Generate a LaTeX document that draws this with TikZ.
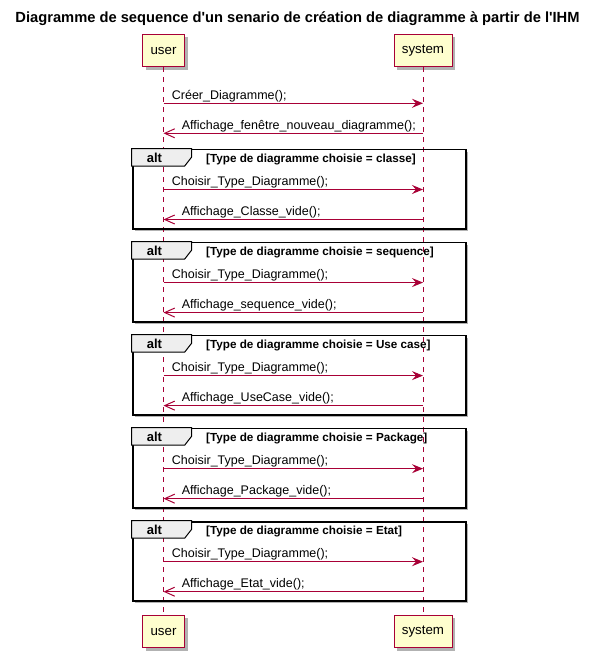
\documentclass[tikz,border=0pt]{standalone}
\usepackage{fontspec}
\setmainfont{Liberation Sans}[Ligatures=TeXOff]
\usetikzlibrary{arrows.meta,shadows,calc}
\definecolor{pline}{HTML}{A80036}
\definecolor{pfill}{HTML}{FEFECE}
\definecolor{tabfill}{HTML}{EEEEEE}
\tikzset{
  part/.style={draw=pline, fill=pfill, line width=1pt, inner sep=0pt,
    minimum height=32.4pt, font=\fontsize{13.3}{15}\selectfont,
    drop shadow={shadow xshift=3pt, shadow yshift=-3pt, opacity=0.3, fill=black}},
  lifeline/.style={draw=pline, line width=0.9pt, dash pattern=on 5pt off 5pt},
  framebg/.style={fill=white, draw=none, inner sep=0pt, anchor=north west,
    minimum width=333.3pt, minimum height=79.3pt,
    drop shadow={shadow xshift=3pt, shadow yshift=-3pt, opacity=0.3, fill=black}},
  frameline/.style={draw=black, line width=1.8pt, inner sep=0pt, anchor=north west,
    minimum width=333.3pt, minimum height=79.3pt},
  tabshape/.style={draw=black, fill=tabfill, line width=1pt},
  alttext/.style={font=\bfseries\fontsize{13}{15}\selectfont, anchor=base west, inner sep=0pt},
  guardtext/.style={font=\bfseries\fontsize{11.7}{13}\selectfont, anchor=base west, inner sep=0pt},
  msgtext/.style={font=\fontsize{12.5}{14}\selectfont, anchor=base west, inner sep=0pt},
  callarrow/.style={draw=pline, line width=1pt, -{Stealth[length=11pt,width=9pt,inset=4pt]}},
  retarrow/.style={draw=pline, line width=1pt, -{Straight Barb[length=10pt,width=9pt]}},
  titletext/.style={font=\bfseries\fontsize{14.7}{17}\selectfont, anchor=base, inner sep=0pt}
}
\begin{document}
\begin{tikzpicture}[x=1pt,y=-1pt]
\useasboundingbox (0,0) rectangle (592,658);
\node[titletext] (title) at (297.5,23) {Diagramme de sequence d'un senario de création de diagramme à partir de l'IHM};
% participants
\node[part, minimum width=42pt] (ut) at (163.5,50.5) {user};
\node[part, minimum width=58pt] (st) at (423,50.5) {system};
\node[part, minimum width=42pt] (ub) at (163.5,631.5) {user};
\node[part, minimum width=58pt] (sb) at (423,631.5) {system};
% frame backgrounds
\foreach \i in {0,...,4}{
  \pgfmathsetmacro\T{148.5+93.05*\i}
  \node[framebg] (fb\i) at (131.7,\T) {};
}
% lifelines
\draw[lifeline] (ut.south) -- (ub.north);
\draw[lifeline] (st.south) -- (sb.north);
% frames
\foreach \i/\g in {0/classe,1/sequence,2/Use case,3/Package,4/Etat}{
  \pgfmathsetmacro\T{148.5+93.05*\i}
  \node[frameline] (f\i) at (131.7,\T) {};
  \draw[tabshape] (f\i.north west) -- ++(60,0) -- ++(0,8.5) -- ++(-7,9) -- ++(-53,0) -- cycle;
  \node[alttext] (alt\i) at (146.7,\T+14) {alt};
  \node[guardtext] (g\i) at (206,\T+14) {[Type de diagramme choisie = \g]};
}
% messages
\coordinate (a1) at (163.5,103.3);
\coordinate (b1) at (423,103.3);
\draw[callarrow] (a1) -- (b1);
\node[msgtext] (t1) at (171.7,99.3) {Créer\_Diagramme();};
\coordinate (a2) at (163.5,133.3);
\coordinate (b2) at (423,133.3);
\draw[retarrow] (b2) -- (a2);
\node[msgtext] (t2) at (181.7,129.3) {Affichage\_fenêtre\_nouveau\_diagramme();};
\foreach \i/\r in {0/Classe,1/sequence,2/UseCase,3/Package,4/Etat}{
  \pgfmathsetmacro\T{148.5+93.05*\i}
  \coordinate (ca\i) at (163.5,\T+41);
  \coordinate (cb\i) at (423,\T+41);
  \draw[callarrow] (ca\i) -- (cb\i);
  \node[msgtext] (ct\i) at (171.7,\T+37) {Choisir\_Type\_Diagramme();};
  \coordinate (ra\i) at (163.5,\T+71);
  \coordinate (rb\i) at (423,\T+71);
  \draw[retarrow] (rb\i) -- (ra\i);
  \node[msgtext] (rt\i) at (181.7,\T+67) {Affichage\_\r\_vide();};
}
\end{tikzpicture}
\end{document}
